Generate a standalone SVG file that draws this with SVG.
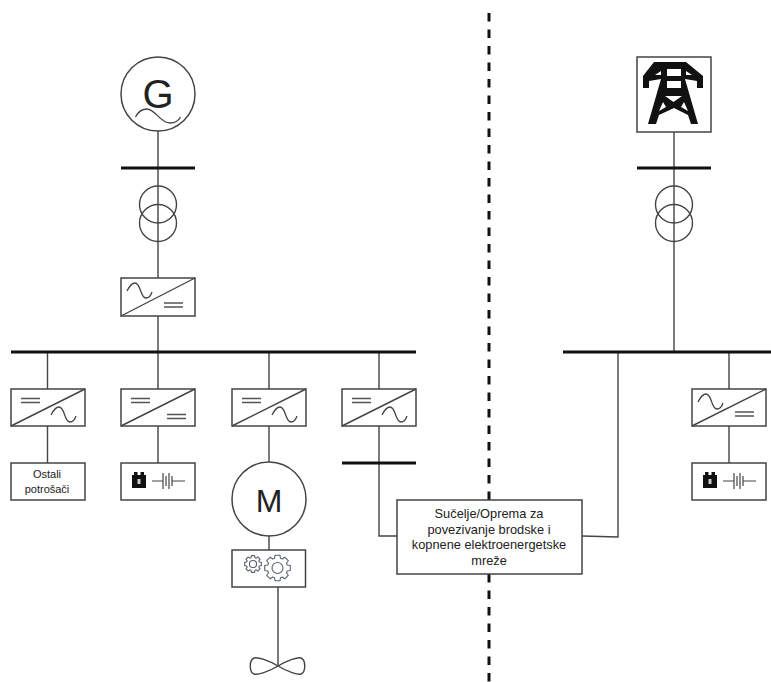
<svg xmlns="http://www.w3.org/2000/svg" width="771" height="682" viewBox="0 0 771 682">
<style>
.l{fill:none;stroke:#444;stroke-width:1.4}
.b{fill:#fff;stroke:#444;stroke-width:1.5}
.bar{fill:none;stroke:#111;stroke-width:3}
.g{fill:none;stroke:#5a6270;stroke-width:1.1;vector-effect:non-scaling-stroke;stroke-linejoin:round}
.t{font-family:"Liberation Sans",Arial,sans-serif;fill:#222;text-anchor:middle}
</style>
<defs>
<path id="wave" d="M0 8C2.500 3 5 0 8 0C14 0 13 15 19 15C22 15 24 12 25 9" fill="none" stroke="#444" stroke-width="1.3"/>
<path id="dash" d="M0 0h19M0 4h19" fill="none" stroke="#555" stroke-width="1.3"/>
<g id="batt">
<path d="M0 5h2V2h3.500v3h3V2h3.500v3h2v13H0z" fill="#111"/><rect x="5.500" y="9" width="3" height="5" fill="#ccc"/>
<path d="M20 11H31M31 3v16M34 6v10M37 3v16M40 6v10M40 11H53" fill="none" stroke="#444" stroke-width="1.2"/>
</g>
<g id="gear"><polygon class="g" points="74.6,-22.8 98.2,-19.1 98.2,19.1 74.6,22.8 68.9,36.6 82.9,55.9 55.9,82.9 36.6,68.9 22.8,74.6 19.1,98.2 -19.1,98.2 -22.8,74.6 -36.6,68.9 -55.9,82.9 -82.9,55.9 -68.9,36.6 -74.6,22.8 -98.2,19.1 -98.2,-19.1 -74.6,-22.8 -68.9,-36.6 -82.9,-55.9 -55.9,-82.9 -36.6,-68.9 -22.8,-74.6 -19.1,-98.2 19.1,-98.2 22.8,-74.6 36.6,-68.9 55.9,-82.9 82.9,-55.9 68.9,-36.6"/><circle r="42" class="g"/></g>
</defs>
<g id="connectors">
<path class="l" d="M158 131V278M158 316V352M47.500 352V463M158 352V463M269 352V462M379 352V536H397M582 536L618 537V352M674 132V352M729 352V463M269 536V550M278 587V666"/>
<path d="M489 13V682" fill="none" stroke="#111" stroke-width="3" stroke-dasharray="8.400 8.100"/>
</g>
<g id="generator"><circle cx="158" cy="94" r="37" class="b"/><text x="158" y="108" class="t" font-size="40">G</text><path d="M135.500 117C138 112 142 109 147 109C155 109 160 123 170 123C175 123 179 120 180.500 117" fill="none" stroke="#444" stroke-width="1.3"/></g>
<g id="bus-gen"><path class="bar" d="M121 168H195"/></g>
<g id="transformer-gen"><circle cx="158" cy="204.500" r="18.500" class="l"/><circle cx="158" cy="223" r="18.500" class="l"/></g>
<g id="rectifier-gen"><rect x="121" y="278" width="74" height="38" class="b"/><path class="l" d="M121 316L195 278"/><use href="#wave" x="127" y="283"/><use href="#dash" x="164" y="303"/></g>
<g id="main-bus"><path class="bar" d="M11 352H416"/></g>
<g id="inv-1"><rect x="11" y="389" width="74" height="37" class="b"/><path class="l" d="M11 426L85 389"/><use href="#dash" x="21" y="398.500"/><use href="#wave" x="51" y="407"/></g>
<g id="dcdc"><rect x="121" y="389" width="74" height="37" class="b"/><path class="l" d="M121 426L195 389"/><use href="#dash" x="131" y="398.500"/><use href="#dash" x="167" y="414.500"/></g>
<g id="inv-3"><rect x="232" y="389" width="74" height="37" class="b"/><path class="l" d="M232 426L306 389"/><use href="#dash" x="242" y="398.500"/><use href="#wave" x="272" y="407"/></g>
<g id="inv-4"><rect x="342" y="389" width="74" height="37" class="b"/><path class="l" d="M342 426L416 389"/><use href="#dash" x="352" y="398.500"/><use href="#wave" x="382" y="407"/></g>
<g id="consumers"><rect x="11" y="463" width="74" height="37" class="b"/><text x="47" y="478" class="t" font-size="11">Ostali</text><text x="47" y="493" class="t" font-size="11">potrošači</text></g>
<g id="battery-ship"><rect x="121" y="463" width="74" height="37" class="b"/><use href="#batt" x="132" y="470"/></g>
<g id="motor"><circle cx="269" cy="499" r="37" class="b"/><text x="269" y="511.500" class="t" font-size="32">M</text></g>
<g id="gearbox"><rect x="232" y="550" width="73.500" height="37" class="b"/><use href="#gear" transform="translate(253 564) scale(.085)"/><use href="#gear" transform="translate(277.500 568) scale(.13)"/></g>
<g id="propeller"><path class="l" d="M278 666C268 660 258 657 254 658C249 660 249 672 254 674C258 675 268 672 278 666C288 660 298 657 301 658C306 660 306 672 301 674C298 675 288 672 278 666Z"/></g>
<g id="bus-ship-interface"><path class="bar" d="M342 463H416"/></g>
<g id="interface"><rect x="397" y="500" width="185" height="74" class="b"/><text x="489" y="518" class="t" font-size="12.800">Sučelje/Oprema za</text><text x="489" y="533.500" class="t" font-size="12.800">povezivanje brodske i</text><text x="489" y="549" class="t" font-size="12.800">kopnene elektroenergetske</text><text x="489" y="564.500" class="t" font-size="12.800">mreže</text></g>
<g id="grid"><rect x="637" y="57" width="74" height="75" class="b"/>
<path d="M654 62H686L703 76V88H697V81L685 79L698 124H691L688 115L674 108L659 115L656 124H648L661 79L649 81V88H643V76Z M667 69H681V76H667Z M667 81H681V88H667Z M665 96H682L673.500 102Z M659 111L666 107L663 102Z M688 111L681 107L684 102Z M655 75L661 71V75Z M692 75L686 71V75Z" fill="#111" fill-rule="evenodd"/></g>
<g id="bus-grid"><path class="bar" d="M637 168H711"/></g>
<g id="transformer-grid"><circle cx="674" cy="204.500" r="18.500" class="l"/><circle cx="674" cy="223" r="18.500" class="l"/></g>
<g id="shore-bus"><path class="bar" d="M563 352H771"/></g>
<g id="rectifier-shore"><rect x="692" y="389" width="74" height="37" class="b"/><path class="l" d="M692 426L766 389"/><use href="#wave" x="698" y="394"/><use href="#dash" x="735" y="412"/></g>
<g id="battery-shore"><rect x="692" y="463" width="74" height="37" class="b"/><use href="#batt" x="703" y="470"/></g>
</svg>
